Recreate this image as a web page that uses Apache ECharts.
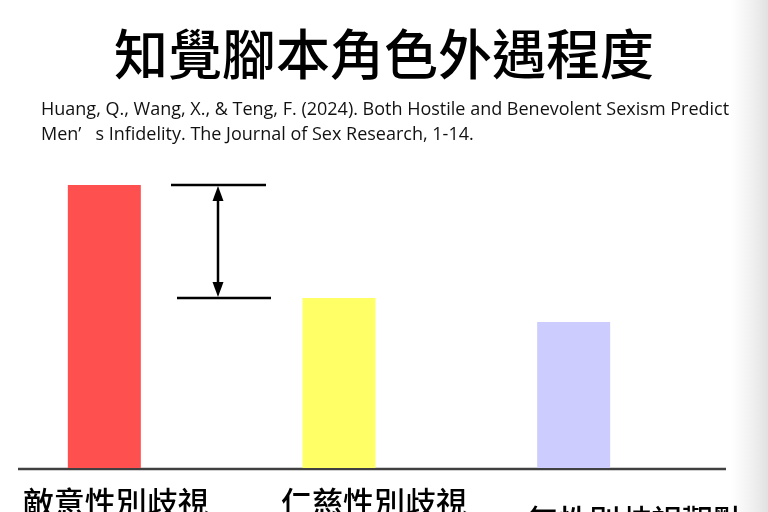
<!DOCTYPE html>
<html>
<head>
<meta charset="utf-8">
<script src="https://cdn.jsdelivr.net/npm/echarts@6/dist/echarts.min.js"></script>
<style>
	html, body { margin: 0; padding: 0; background: #ffffff; }
	#chart { width: 768px; height: 512px; }
</style>
</head>
<body>
<div id="chart"></div>
<script>
	var categories = ['敵意性別歧視', '仁慈性別歧視', '無性別歧視觀點'];
	var values = [283, 170, 146];
	var bar_colors = ['#ff5050', '#ffff66', '#ccccff'];
	var title_text = '知覺腳本角色外遇程度';
	var source_text = 'Huang, Q., Wang, X., & Teng, F. (2024). Both Hostile and Benevolent Sexism Predict\nMen’   s Infidelity. The Journal of Sex Research, 1-14.';

	var cjk_font = '"Noto Sans CJK TC", "Noto Sans CJK SC", sans-serif';
	var label_shift = [[0, 0, 0, 23], [0, 0, 0, 70], [18, 0, 0, 124]];

	var rich = {};
	categories.forEach(function (c, i) {
		rich['l' + i] = {
			fontFamily: cjk_font,
			fontSize: 31,
			fontWeight: 500,
			color: '#000000',
			padding: label_shift[i]
		};
	});

	var chart = echarts.init(document.getElementById('chart'));
	var options = {
		backgroundColor: '#ffffff',
		animation: false,
		title: [{
			text: title_text,
			left: 'center',
			top: 22,
			textStyle: {
				fontFamily: cjk_font,
				fontSize: 54,
				fontWeight: 500,
				color: '#000000'
			}
		}, {
			text: source_text,
			left: 36,
			top: 92,
			textStyle: {
				fontFamily: '"Liberation Sans Narrow", "Open Sans", sans-serif',
				fontSize: 18,
				fontWeight: 'normal',
				lineHeight: 25,
				color: '#111111'
			}
		}],
		grid: {
			left: -13,
			right: 77,
			top: 168,
			bottom: 44,
			containLabel: false,
			outerBoundsMode: 'none'
		},
		xAxis: {
			type: 'category',
			data: categories,
			axisLine: { show: false },
			axisTick: { show: false },
			axisLabel: {
				interval: 0,
				hideOverlap: false,
				margin: 19,
				verticalAlign: 'top',
				formatter: function (value, index) {
					return '{l' + index + '|' + value + '}';
				},
				rich: rich
			}
		},
		yAxis: {
			type: 'value',
			min: 0,
			max: 300,
			show: false,
			splitLine: { show: false }
		},
		series: [{
			type: 'bar',
			barWidth: 73,
			data: values.map(function (v, i) {
				return { value: v, itemStyle: { color: bar_colors[i] } };
			})
		}]
	};
	chart.setOption(options);

	// annotation: difference between the first two bars, and the baseline
	var y_top = chart.convertToPixel({ yAxisIndex: 0 }, values[0]);
	var y_mid = chart.convertToPixel({ yAxisIndex: 0 }, values[1]);
	var y_base = chart.convertToPixel({ yAxisIndex: 0 }, 0);
	var ax = 218;
	var line_style = { stroke: '#000000', lineWidth: 2.5 };
	chart.setOption({
		graphic: [
			{
				type: 'rect',
				shape: { x: 730, y: 0, width: 38, height: 512 },
				style: {
					fill: new echarts.graphic.LinearGradient(0, 0, 1, 0, [
						{ offset: 0, color: 'rgba(235,235,235,0)' },
						{ offset: 1, color: 'rgba(225,225,225,1)' }
					])
				},
				z: -1
			},
			{
				type: 'line',
				shape: { x1: 18, y1: y_base + 1, x2: 726, y2: y_base + 1 },
				style: { stroke: '#404040', lineWidth: 2.5 }
			},
			{
				type: 'line',
				shape: { x1: 171, y1: y_top, x2: 266, y2: y_top },
				style: line_style
			},
			{
				type: 'line',
				shape: { x1: 177, y1: y_mid, x2: 271, y2: y_mid },
				style: line_style
			},
			{
				type: 'line',
				shape: { x1: ax, y1: y_top + 12, x2: ax, y2: y_mid - 12 },
				style: line_style
			},
			{
				type: 'polygon',
				shape: { points: [[ax, y_top + 1], [ax - 5.5, y_top + 16], [ax + 5.5, y_top + 16]] },
				style: { fill: '#000000' }
			},
			{
				type: 'polygon',
				shape: { points: [[ax, y_mid - 1], [ax - 5.5, y_mid - 16], [ax + 5.5, y_mid - 16]] },
				style: { fill: '#000000' }
			}
		]
	});
</script>
</body>
</html>
